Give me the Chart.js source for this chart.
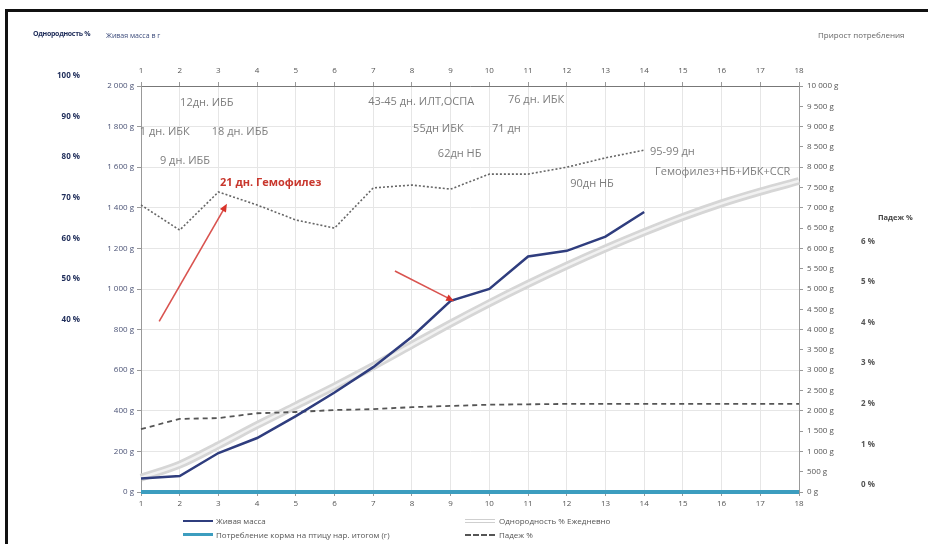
<!DOCTYPE html>
<html>
<head>
<meta charset="utf-8">
<script src="https://cdn.jsdelivr.net/npm/chart.js@4"></script>
<style>
  html, body { margin:0; padding:0; background:#fff; }
  #wrap { position:relative; width:928px; height:544px; overflow:hidden; font-family:"Open Sans", sans-serif; }
  #frame { position:absolute; left:5px; top:9px; right:-10px; bottom:-10px; border-left:3px solid #111; border-top:3px solid #111; pointer-events:none; }
  .lbl { position:absolute; font-size:8px; color:#555; white-space:nowrap; }
  .lg { position:absolute; font-size:8px; color:#555; white-space:nowrap; line-height:10px; }
  .sw { position:absolute; width:30px; }
</style>
</head>
<body>
<div id="wrap">
  <canvas id="c" width="928" height="544"></canvas>
  <div id="frame"></div>
  <div class="lbl" style="left:33px;top:29px;font-size:7px;letter-spacing:-0.3px;font-weight:bold;color:#1f2d5a;">Однородность %</div>
  <div class="lbl" style="left:106px;top:31px;font-size:7px;color:#3b4a7a;">Живая масса в г</div>
  <div class="lbl" style="left:818px;top:29px;color:#666;">Прирост потребления</div>
  <div class="lbl" style="left:878px;top:212px;font-size:7.5px;font-weight:bold;color:#444;">Падеж %</div>

  <div class="sw" style="left:183px;top:520px;border-top:2px solid #2f3d7e;"></div>
  <div class="lg" style="left:216px;top:516px;">Живая масса</div>
  <div class="sw" style="left:183px;top:533px;border-top:3px solid #3c9dbf;"></div>
  <div class="lg" style="left:216px;top:530px;">Потребление корма на птицу нар. итогом (г)</div>
  <div class="sw" style="left:465px;top:519px;height:2px;border-top:1px solid #cfcfcf;border-bottom:1px solid #cfcfcf;"></div>
  <div class="lg" style="left:499px;top:516px;">Однородность % Ежедневно</div>
  <div class="sw" style="left:465px;top:534px;border-top:2px dashed #555;"></div>
  <div class="lg" style="left:499px;top:530px;">Падеж %</div>
</div>
<script>
// ---- data ----
const days = ['1','2','3','4','5','6','7','8','9','10','11','12','13','14','15','16','17','18'];
const liveMass = [66, 79, 192, 266, 374, 490, 615, 765, 942, 1000, 1160, 1188, 1258, 1379];
const feedConsumption = [0,0,0,0,0,0,0,0,0,0,0,0,0,0,0,0,0,0];
const uniformityBand = [70, 135, 230, 330, 425, 520, 620, 725, 830, 930, 1025, 1115, 1200, 1280, 1355, 1422, 1480, 1532];
const uniformityPct = [70.7, 64.5, 73.9, 70.7, 67.0, 65.0, 74.9, 75.6, 74.6, 78.3, 78.3, 80.0, 82.3, 84.2];
const mortalityPct = [1.55, 1.80, 1.82, 1.94, 1.97, 2.02, 2.04, 2.09, 2.12, 2.15, 2.16, 2.17, 2.17, 2.17, 2.17, 2.17, 2.17, 2.17];

// annotations (day, grams on left axis)
const notes = [
  {text:'12дн. ИББ', day:2.01, g:1915},
  {text:'1 дн. ИБК', day:0.97, g:1772},
  {text:'18 дн. ИББ', day:2.83, g:1772},
  {text:'9 дн. ИББ', day:1.49, g:1629},
  {text:'21 дн. Гемофилез', day:3.04, g:1525, red:true},
  {text:'43-45 дн. ИЛТ,ОСПА', day:6.87, g:1921},
  {text:'76 дн. ИБК', day:10.48, g:1931},
  {text:'55дн ИБК', day:8.03, g:1787},
  {text:'71 дн', day:10.07, g:1787},
  {text:'62дн НБ', day:8.67, g:1668},
  {text:'90дн НБ', day:12.09, g:1520},
  {text:'95-99 дн', day:14.15, g:1678},
  {text:'Гемофилез+НБ+ИБК+ССR', day:14.28, g:1579}
];
const arrows = [
  {from:[1.47, 841], to:[3.22, 1420]},
  {from:[7.56, 1089], to:[9.09, 940]}
];

const fmtG = v => {
  const s = String(Math.round(v));
  return s.replace(/\B(?=(\d{3})+(?!\d))/g, ' ') + ' g';
};
const tickFont = {family:'"Open Sans", sans-serif', size:8};

const annotPlugin = {
  id:'annot',
  afterDatasetsDraw(chart) {
    const ctx = chart.ctx, xs = chart.scales.x, ys = chart.scales.yG;
    ctx.save();
    ctx.textBaseline = 'middle';
    ctx.textAlign = 'left';
    notes.forEach(n => {
      ctx.font = (n.red ? 'bold ' : '') + '11px "Open Sans", sans-serif';
      ctx.fillStyle = n.red ? '#c8372d' : '#7d7d7d';
      ctx.fillText(n.text, xs.getPixelForValue(n.day - 1), ys.getPixelForValue(n.g));
    });
    ctx.strokeStyle = '#d9534f';
    ctx.fillStyle = '#d9342b';
    ctx.lineWidth = 1.6;
    arrows.forEach(a => {
      const x0 = xs.getPixelForValue(a.from[0]-1), y0 = ys.getPixelForValue(a.from[1]);
      const x1 = xs.getPixelForValue(a.to[0]-1), y1 = ys.getPixelForValue(a.to[1]);
      const ang = Math.atan2(y1-y0, x1-x0);
      ctx.beginPath(); ctx.moveTo(x0,y0); ctx.lineTo(x1 - 5*Math.cos(ang), y1 - 5*Math.sin(ang)); ctx.stroke();
      ctx.beginPath();
      ctx.moveTo(x1, y1);
      ctx.lineTo(x1 - 8*Math.cos(ang) + 3.5*Math.sin(ang), y1 - 8*Math.sin(ang) - 3.5*Math.cos(ang));
      ctx.lineTo(x1 - 8*Math.cos(ang) - 3.5*Math.sin(ang), y1 - 8*Math.sin(ang) + 3.5*Math.cos(ang));
      ctx.closePath(); ctx.fill();
    });
    ctx.restore();
  }
};

new Chart(document.getElementById('c'), {
  type:'line',
  data:{
    labels: days,
    datasets:[
      {label:'Живая масса', data:liveMass, yAxisID:'yG', xAxisID:'x', borderColor:'#2f3d7e', borderWidth:2.5, pointRadius:0, tension:0},
      {label:'Потребление корма на птицу нар. итогом (г)', data:feedConsumption, yAxisID:'yR', xAxisID:'x', borderColor:'#3c9dbf', borderWidth:4, pointRadius:0, clip:false},
      {label:'Падеж %', data:mortalityPct, yAxisID:'yP', xAxisID:'x', borderColor:'#555', borderWidth:1.8, borderDash:[5,4], pointRadius:0},
      {label:'uniformity daily', data:uniformityPct, yAxisID:'yU', xAxisID:'x', borderColor:'#666', borderWidth:1.6, borderDash:[2,2], pointRadius:0},
      {label:'band center', data:uniformityBand, yAxisID:'yG', xAxisID:'x', borderColor:'#f2f2f2', borderWidth:2.5, pointRadius:0, tension:0.3},
      {label:'Однородность % Ежедневно', data:uniformityBand, yAxisID:'yG', xAxisID:'x', borderColor:'#d6d6d6', borderWidth:8, pointRadius:0, tension:0.3}
    ]
  },
  options:{
    responsive:false,
    animation:false,
    events:[],
    layout:{padding:{left:10, right:28, top:66, bottom:32}},
    plugins:{legend:{display:false}, tooltip:{enabled:false}},
    scales:{
      x:{type:'category', position:'bottom', offset:false,
         grid:{color:'#e6e6e6', tickLength:4, tickColor:'#999'},
         border:{color:'#999'},
         ticks:{font:tickFont, color:'#555', padding:3, maxRotation:0, autoSkip:false},
         afterFit(s){ s.height = 20; }},
      xTop:{type:'category', position:'top', offset:false, labels:days,
         grid:{display:true, drawOnChartArea:false, tickLength:4, color:'#999'},
         border:{color:'#777'},
         ticks:{font:tickFont, color:'#555', padding:6, maxRotation:0, autoSkip:false},
         afterFit(s){ s.height = 20; }},
      yG:{type:'linear', position:'left', min:0, max:2000,
         grid:{color:'#e6e6e6', tickLength:4, tickColor:'#999'},
         border:{color:'#999'},
         ticks:{stepSize:200, font:tickFont, color:'#4a5275', padding:3, callback:v=>fmtG(v)},
         afterFit(s){ s.width = 53; }},
      yU:{type:'linear', position:'left', min:0, max:100,
         grid:{display:false, drawTicks:false},
         border:{display:false},
         ticks:{stepSize:10, font:{family:'"Open Sans", sans-serif', size:8, weight:'bold'}, color:'#1f2d5a', padding:8, labelOffset:-10,
                callback:v=> v>=40 ? v + ' %' : ''},
         afterFit(s){ s.width = 78; }},
      yR:{type:'linear', position:'right', min:0, max:10000,
         grid:{drawOnChartArea:false, tickLength:4, tickColor:'#999'},
         border:{color:'#999'},
         ticks:{stepSize:500, font:tickFont, color:'#555', padding:4, callback:v=>fmtG(v)},
         afterFit(s){ s.width = 56; }},
      yP:{type:'linear', position:'right', min:0, max:10,
         grid:{display:false, drawTicks:false},
         border:{display:false},
         ticks:{stepSize:1, font:{family:'"Open Sans", sans-serif', size:8, weight:'bold'}, color:'#555', padding:6, labelOffset:-7,
                callback:v=> v<=6 ? v + ' %' : ''},
         afterFit(s){ s.width = 45; }}
    }
  },
  plugins:[annotPlugin]
});
</script>
</body>
</html>
